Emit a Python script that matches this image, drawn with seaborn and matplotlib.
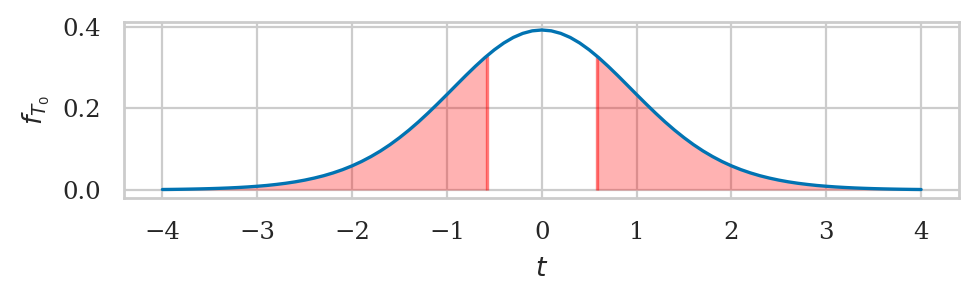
import numpy as np
import pandas as pd
import matplotlib
matplotlib.use("Agg")
import matplotlib.pyplot as plt
import seaborn as sns

# half-curve (t >= 0), at 0.1 steps
t_pos = [0.0, 0.1, 0.2, 0.3, 0.4, 0.5, 0.6, 0.7, 0.8, 0.9,
         1.0, 1.1, 1.2, 1.3, 1.4, 1.5, 1.6, 1.7, 1.8, 1.9,
         2.0, 2.1, 2.2, 2.3, 2.4, 2.5, 2.6, 2.7, 2.8, 2.9,
         3.0, 3.1, 3.2, 3.3, 3.4, 3.5, 3.6, 3.7, 3.8, 3.9, 4.0]
f_pos = [0.3924, 0.3903, 0.3841, 0.3741, 0.3605, 0.3438, 0.3246, 0.3034, 0.2809, 0.2576,
         0.2341, 0.2110, 0.1885, 0.1670, 0.1469, 0.1283, 0.1112, 0.0958, 0.0821, 0.0699,
         0.0592, 0.0499, 0.0419, 0.0350, 0.0292, 0.0242, 0.0200, 0.0165, 0.0136, 0.0111,
         0.00913, 0.00747, 0.00611, 0.00498, 0.00406, 0.00331, 0.00269, 0.00219, 0.00178, 0.00145, 0.00118]
t_obs = 0.58
f_obs = 0.3286

t_all = [-v for v in t_pos[:0:-1]] + t_pos
f_all = f_pos[:0:-1] + f_pos
df = pd.DataFrame({"t": t_all, "f": f_all})

sns.set_theme(context="paper", style="whitegrid", font="serif")
plt.rcParams["font.family"] = ["DejaVu Serif"]

fig = plt.figure(figsize=(4.89, 1.51), dpi=200)
ax = fig.add_axes([0.1273, 0.3444, 0.8533, 0.5828])

sns.lineplot(data=df, x="t", y="f", color="#0173b2", ax=ax, zorder=3)

left = df[df.t <= -t_obs]
right = df[df.t >= t_obs]
lx = list(left.t) + [-t_obs]
ly = list(left.f) + [f_obs]
rx = [t_obs] + list(right.t)
ry = [f_obs] + list(right.f)
ax.fill_between(lx, 0, ly, color="red", alpha=0.3, linewidth=0)
ax.fill_between(rx, 0, ry, color="red", alpha=0.3, linewidth=0)
ax.vlines([-t_obs, t_obs], 0, f_obs, color="red", alpha=0.5, linewidth=1.2)

ax.set_xticks([-4, -3, -2, -1, 0, 1, 2, 3, 4])
ax.set_yticks([0.0, 0.2, 0.4])
ax.set_xlabel("$t$")
ax.set_ylabel("$f_{T_0}$")

fig.savefig("out.png", dpi=200)
